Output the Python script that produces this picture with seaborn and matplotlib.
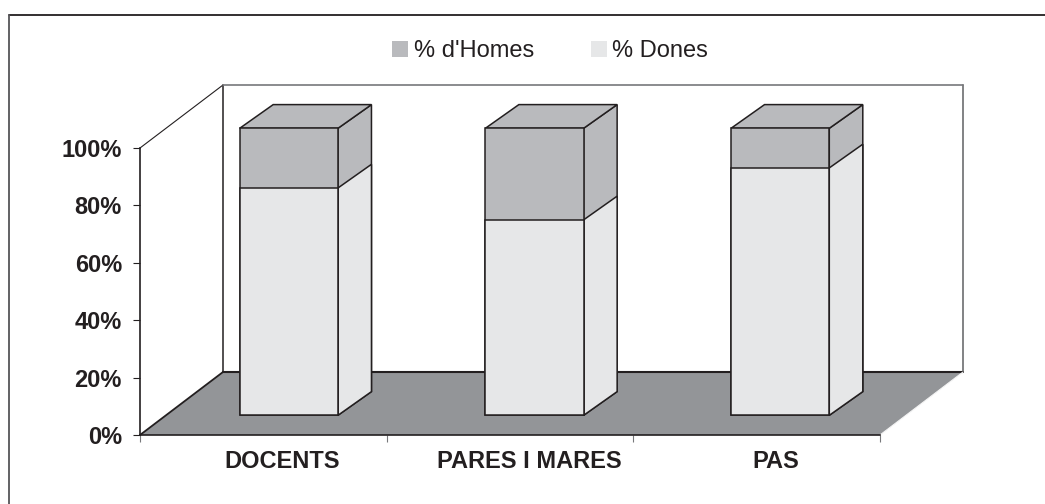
import numpy as np
import pandas as pd
import matplotlib
matplotlib.use("Agg")
import matplotlib.pyplot as plt
import seaborn as sns
from matplotlib.lines import Line2D
from matplotlib.patches import Patch, Polygon
from matplotlib.ticker import FixedLocator
from matplotlib.transforms import Affine2D, IdentityTransform

# data
groups = ["DOCENTS", "PARES I MARES", "PAS"]
pct_dones = [79.2, 68.1, 86.2]
pct_homes = [20.8, 31.9, 13.8]
y_ticks = [0, 20, 40, 60, 80, 100]
legend_labels = ["% d'Homes", "% Dones"]

# colours
c_homes = "#b9babd"
c_dones = "#e6e7e8"
c_floor = "#939598"
c_line = "#231f20"
c_wall = "#77787b"

W, H = 1045, 504
# front plane of the fake 3d box, in pixels from the top left
LEFT, RIGHT, BASE, TOP = 140, 880, 435, 148
FLOOR_DX, FLOOR_DY = 83, 63       # depth of the whole box
SHIFT_DX, SHIFT_DY = 26, 19.7     # where the bars stand in the box
BAR_DX, BAR_DY = 33.5, 23.7       # depth of a bar
BAR_AXES_W = 737                  # bars sit a little tighter than the axis ticks

sns.set_style("white")
plt.rcParams["font.family"] = ["Liberation Sans", "DejaVu Sans"]

df = pd.DataFrame({"grup": groups, "dones": pct_dones, "homes": pct_homes})
df["total"] = df["dones"] + df["homes"]

fig = plt.figure(figsize=(W / 100, H / 100), dpi=100)
rect = [LEFT / W, 1 - BASE / H, (RIGHT - LEFT) / W, (BASE - TOP) / H]
ax = fig.add_axes(rect)
rect2 = [(LEFT + SHIFT_DX) / W, 1 - (BASE - SHIFT_DY) / H, BAR_AXES_W / W, (BASE - TOP) / H]
ax2 = fig.add_axes(rect2, zorder=5)

# bars, stacked by drawing the total first
sns.barplot(data=df, x="grup", y="total", color=c_homes, saturation=1, width=0.4,
            edgecolor=c_line, linewidth=1.1, ax=ax2)
sns.barplot(data=df, x="grup", y="dones", color=c_dones, saturation=1, width=0.4,
            edgecolor=c_line, linewidth=1.1, ax=ax2)
ax2.set_xlim(-0.5, 2.5)
ax2.set_ylim(0, 100)
ax2.axis("off")
ax2.patch.set_visible(False)

ident = IdentityTransform()


def face(axis, pts, color, z=1, edge=c_line, lw=1.1):
    axis.add_patch(Polygon(pts, closed=True, facecolor=color, edgecolor=edge, linewidth=lw,
                           transform=ident, clip_on=False, zorder=z))


# side and top faces worked out from the bars seaborn drew
fig.canvas.draw()
for bar in list(ax2.patches):
    x0, y0 = bar.get_x(), bar.get_y()
    x1, y1 = x0 + bar.get_width(), y0 + bar.get_height()
    a = ax2.transData.transform((x1, y0))
    b = ax2.transData.transform((x1, y1))
    d = np.array([BAR_DX, BAR_DY])
    col = bar.get_facecolor()
    face(ax2, [a, b, b + d, a + d], col, z=1)
    if y1 >= 99.9 and col[0] < 0.8:
        c = ax2.transData.transform((x0, y1))
        face(ax2, [c, b, b + d, c + d], col, z=1)
    bar.set_zorder(2)
    bar.set_clip_on(False)

# box
ax.set_xlim(-0.5, 2.5)
ax.set_ylim(0, 100)
ax.patch.set_visible(False)
p00 = ax.transData.transform((-0.5, 0))
p10 = ax.transData.transform((2.5, 0))
p01 = ax.transData.transform((-0.5, 100))
p11 = ax.transData.transform((2.5, 100))
d = np.array([FLOOR_DX, FLOOR_DY])
face(ax, [p00, p10, p10 + d, p00 + d], c_floor, z=1, edge="none")


def seg(p, q, color=c_line, lw=1.0, z=2):
    ax.add_line(Line2D([p[0], q[0]], [p[1], q[1]], color=color, linewidth=lw,
                       transform=ident, clip_on=False, zorder=z))


seg(p00, p00 + d, lw=1.3)
seg(p01, p01 + d, lw=0.8)
seg(p00 + d, p01 + d, lw=1.1)
seg(p01 + d, p11 + d, color=c_wall, lw=1.2)
seg(p10 + d, p11 + d, color=c_wall, lw=1.3)
seg(p00 + d, p10 + d, lw=1.5)
seg(p10, p10 + d, color="#f4f4f4", lw=0.8, z=3)

# axes
sns.despine(ax=ax, top=True, right=True)
for s in ["left", "bottom"]:
    ax.spines[s].set_color(c_line)
    ax.spines[s].set_linewidth(1.2)
    ax.spines[s].set_zorder(4)
ax.set_xlabel("")
ax.set_ylabel("")
ax.set_yticks(y_ticks)
ax.set_yticklabels([f"{v}%" for v in y_ticks], fontsize=17, fontweight="bold", color=c_line)
ax.tick_params(axis="y", left=True, length=5, width=0.8, color=c_line, pad=8)
ax.set_xticks(range(len(groups)))
ax.set_xticklabels(groups, fontsize=17, fontweight="bold", color=c_line)
ax.tick_params(axis="x", which="major", bottom=False, length=0, pad=11)
ax.xaxis.set_minor_locator(FixedLocator([-0.5, 0.5, 1.5, 2.5]))
ax.tick_params(axis="x", which="minor", bottom=True, length=5, width=0.8, color=c_wall)
for lab in ax.get_xticklabels():
    lab.set_transform(lab.get_transform() + Affine2D().translate(19, 0))

# legend
handles = [Patch(facecolor=c_homes, edgecolor="none"), Patch(facecolor=c_dones, edgecolor="none")]
fig.legend(handles, legend_labels, loc="center", bbox_to_anchor=(550 / W, 1 - 51 / H), ncol=2,
           frameon=False, fontsize=17, labelcolor=c_line, handlelength=0.68, handleheight=0.68,
           handletextpad=0.25, columnspacing=2.4, borderpad=0)

# outer frame, only top and left are in the picture
fig.add_artist(Line2D([9 / W, 1], [1 - 14.5 / H, 1 - 14.5 / H], color=c_line, linewidth=1.3))
fig.add_artist(Line2D([9 / W, 9 / W], [0, 1 - 14.5 / H], color="#555558", linewidth=1.3))

fig.savefig("out.png", dpi=100)
